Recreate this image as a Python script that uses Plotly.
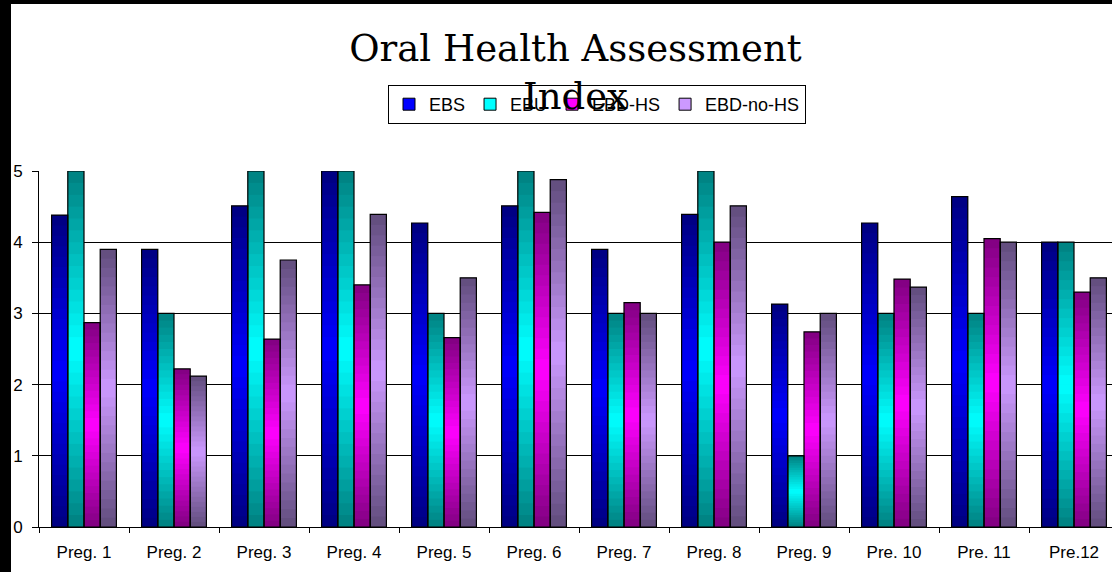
import plotly.graph_objects as go

categories = ["Preg. 1", "Preg. 2", "Preg. 3", "Preg. 4", "Preg. 5", "Preg. 6",
              "Preg. 7", "Preg. 8", "Preg. 9", "Pre. 10", "Pre. 11", "Pre.12"]
series_names = ["EBS", "EBU", "EBD-HS", "EBD-no-HS"]
ebs = [4.38, 3.9, 4.51, 5.0, 4.27, 4.51, 3.9, 4.39, 3.13, 4.27, 4.64, 4.0]
ebu = [5.0, 3.0, 5.0, 5.0, 3.0, 5.0, 3.0, 5.0, 1.0, 3.0, 3.0, 4.0]
ebd_hs = [2.87, 2.22, 2.64, 3.40, 2.66, 4.42, 3.15, 4.0, 2.74, 3.48, 4.05, 3.30]
ebd_no_hs = [3.9, 2.12, 3.75, 4.39, 3.5, 4.88, 3.0, 4.51, 3.0, 3.37, 4.0, 3.5]
series_values = [ebs, ebu, ebd_hs, ebd_no_hs]
y_ticks = [0, 1, 2, 3, 4, 5]

dark_colors = [(0, 0, 128), (0, 128, 128), (128, 0, 128), (96, 76, 124)]
bright_colors = [(0, 0, 255), (0, 255, 255), (255, 0, 255), (204, 153, 255)]

W, H = 1112, 572
ML, MR, MT, MB = 39, 0, 171, 45
plot_w = W - ML - MR
plot_h = H - MT - MB
cat_px = 90.0
bar_w = 0.18
N_SEG = 30


def mix(c1, c2, t):
    return "rgb(%d,%d,%d)" % tuple(round(a + (b - a) * t) for a, b in zip(c1, c2))


fig = go.Figure()

# legend-only entries
for s, name in enumerate(series_names):
    fig.add_trace(go.Bar(
        x=[categories[0]], y=[None], name=name,
        marker=dict(color=mix(bright_colors[s], bright_colors[s], 0),
                    line=dict(color="black", width=1)),
        showlegend=True, hoverinfo="skip"))

# gradient segments (each overlaps the next to avoid seams)
for s, vals in enumerate(series_values):
    off = -2 * bar_w + s * bar_w
    for k in range(N_SEG):
        frac_mid = (k + 0.5) / N_SEG
        t = 1 - abs(frac_mid - 0.5) / 0.5  # 0 at ends, 1 at middle
        col = mix(dark_colors[s], bright_colors[s], t)
        top_k = min(k + 2, N_SEG)
        fig.add_trace(go.Bar(
            x=categories,
            y=[v * (top_k - k) / N_SEG for v in vals],
            base=[v * k / N_SEG for v in vals],
            width=bar_w, offset=off,
            marker=dict(color=col, line=dict(width=0)),
            showlegend=False, hoverinfo="skip"))

# outlines
for s, vals in enumerate(series_values):
    off = -2 * bar_w + s * bar_w
    fig.add_trace(go.Bar(
        x=categories, y=vals, width=bar_w, offset=off,
        name=series_names[s],
        marker=dict(color="rgba(0,0,0,0)", line=dict(color="black", width=1.2)),
        showlegend=False))


# black frame bands (left and top)
def px_to_paper_x(px):
    return (px - ML) / plot_w


def px_to_paper_y(py):
    return (H - MB - py) / plot_h


fig.add_shape(type="rect", xref="paper", yref="paper",
              x0=px_to_paper_x(0), x1=px_to_paper_x(11),
              y0=px_to_paper_y(H), y1=px_to_paper_y(0),
              fillcolor="black", line=dict(width=0), layer="above")
fig.add_shape(type="rect", xref="paper", yref="paper",
              x0=px_to_paper_x(0), x1=px_to_paper_x(W),
              y0=px_to_paper_y(4), y1=px_to_paper_y(0),
              fillcolor="black", line=dict(width=0), layer="above")

sans = "Liberation Sans, Arial, sans-serif"
fig.update_layout(
    width=W, height=H, autosize=False,
    margin=dict(l=ML, r=MR, t=MT, b=MB, pad=0),
    paper_bgcolor="white", plot_bgcolor="white",
    barmode="overlay",
    title=dict(text="Oral Health Assessment<br>Index",
               font=dict(family="DejaVu Serif", size=37, color="black"),
               xref="paper", x=0.5, xanchor="center",
               yref="container", y=1 - 61 / H, yanchor="top"),
    legend=dict(orientation="h", xref="container", yref="container",
                x=388 / W, xanchor="left", y=1 - 85 / H, yanchor="top",
                bgcolor="white", bordercolor="black", borderwidth=1,
                font=dict(family=sans, size=18, color="black"),
                traceorder="normal"),
    font=dict(family=sans, size=17, color="black"),
    xaxis=dict(type="category", categoryorder="array", categoryarray=categories,
               range=[-0.5, -0.5 + plot_w / cat_px],
               showline=True, linecolor="black", linewidth=1,
               ticks="outside", tickson="boundaries", ticklen=5,
               tickcolor="black", showgrid=False, ticklabelstandoff=10,
               tickfont=dict(family=sans, size=17, color="black")),
    yaxis=dict(range=[0, 5], tickvals=y_ticks, showgrid=True,
               gridcolor="black", gridwidth=1, zeroline=False,
               showline=True, linecolor="black", linewidth=1,
               ticks="outside", ticklen=6, tickcolor="black",
               ticklabelstandoff=6,
               tickfont=dict(family=sans, size=17, color="black")),
)

fig.write_html("out.html",
               config={"displayModeBar": False},
               post_script="document.body.style.margin='0';document.body.style.overflow='hidden';")
